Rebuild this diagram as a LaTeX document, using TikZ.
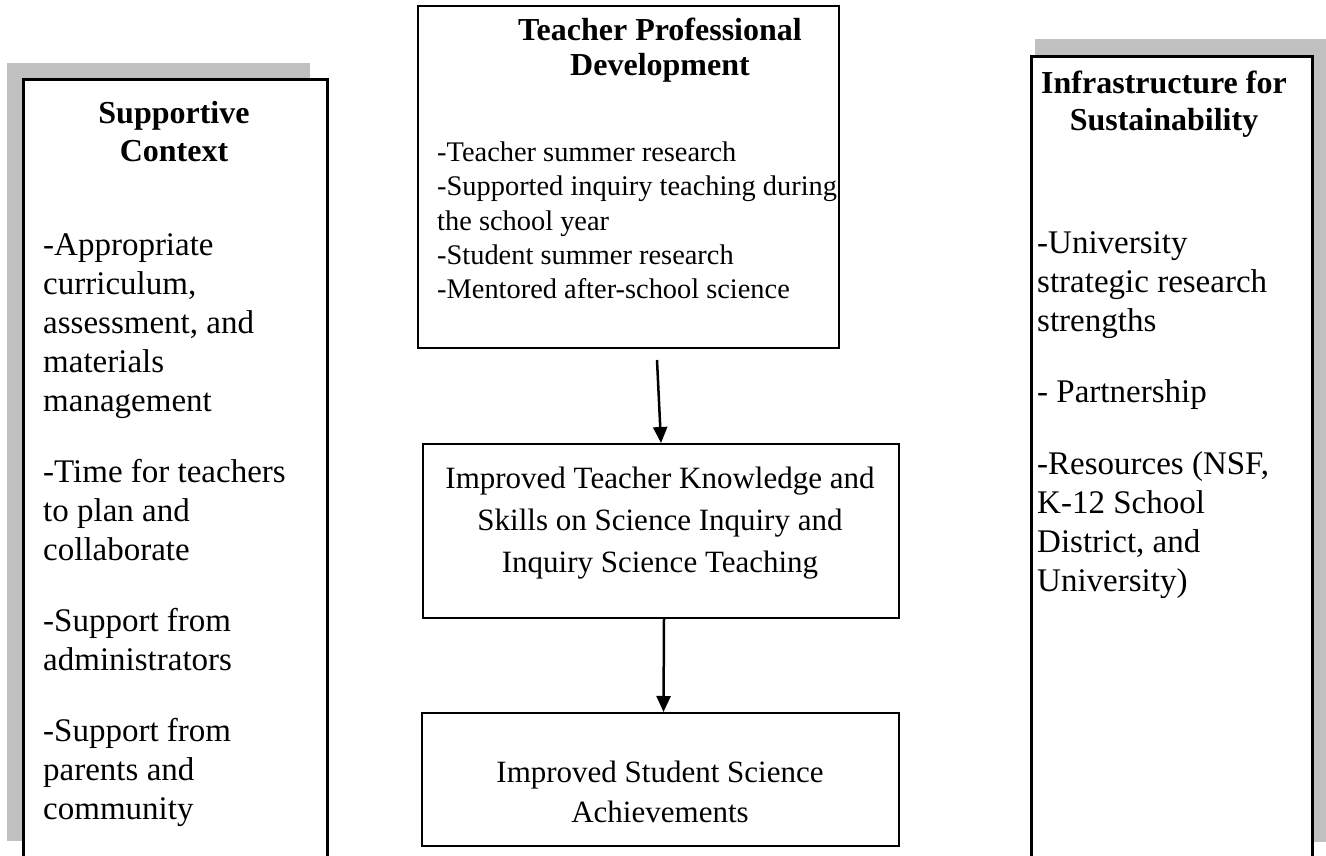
\documentclass[tikz,border=0pt]{standalone}
\usepackage{fontspec}
\setmainfont{Liberation Serif}
\usetikzlibrary{arrows.meta}
\definecolor{shadowgray}{RGB}{192,192,192}
\begin{document}
\begin{tikzpicture}[x=1pt,y=-1pt,
  shade/.style={fill=shadowgray,draw=none,inner sep=0pt,anchor=north west},
  panel/.style={draw=black,line width=2.6pt,fill=white,inner sep=0pt,anchor=north west},
  flowbox/.style={draw=black,line width=2pt,fill=white,inner sep=0pt,anchor=north west},
  side/.style={font=\fontsize{33}{39}\selectfont,inner sep=0pt,anchor=base west},
  ctxt/.style={font=\fontsize{31}{36}\selectfont,inner sep=0pt,anchor=base},
  head/.style={font=\fontsize{32}{37}\selectfont\bfseries,inner sep=0pt,anchor=base},
  small/.style={font=\fontsize{28.4}{34}\selectfont,inner sep=0pt,anchor=base west},
  flow/.style={line width=2.5pt,-{Triangle[length=16pt,width=14pt]}}
]
\clip (0,0) rectangle (1326,856);
\fill[white] (0,0) rectangle (1326,856);

% side panels with their offset shadows
\node[shade,minimum width=303pt,minimum height=778pt] (ctxshade) at (7,63) {};
\node[panel,minimum width=304pt,minimum height=820pt] (ctx) at (22,78) {};
\node[shade,minimum width=291pt,minimum height=803pt] (infshade) at (1035,39) {};
\node[panel,minimum width=281pt,minimum height=840pt] (inf) at (1030,55) {};

% central flow
\node[flowbox,minimum width=421pt,minimum height=342pt] (tpd) at (417,5) {};
\node[flowbox,minimum width=476pt,minimum height=174pt] (itk) at (422,443) {};
\node[flowbox,minimum width=477pt,minimum height=133pt] (isa) at (421,712) {};

\coordinate (a1s) at (657,360);
\draw[flow] (a1s) -- (itk.north);
\draw[flow] ([xshift=3pt]itk.south) -- ([xshift=3pt]isa.north);

% Supportive Context
\node[head] (ctxh1) at (174,124) {Supportive};
\node[head] (ctxh2) at (174,161) {Context};
\node[side] (c1)  at (43,255) {-Appropriate};
\node[side] (c2)  at (43,294) {curriculum,};
\node[side] (c3)  at (43,333) {assessment, and};
\node[side] (c4)  at (43,372) {materials};
\node[side] (c5)  at (43,411) {management};
\node[side] (c6)  at (43,482) {-Time for teachers};
\node[side] (c7)  at (43,521) {to plan and};
\node[side] (c8)  at (43,560) {collaborate};
\node[side] (c9)  at (43,631) {-Support from};
\node[side] (c10) at (43,670) {administrators};
\node[side] (c11) at (43,741) {-Support from};
\node[side] (c12) at (43,780) {parents and};
\node[side] (c13) at (43,819) {community};

% Infrastructure for Sustainability
\node[head] (infh1) at (1164,94) {Infrastructure for};
\node[head] (infh2) at (1164,131) {Sustainability};
\node[side] (r1) at (1037,253) {-University};
\node[side] (r2) at (1037,292) {strategic research};
\node[side] (r3) at (1037,331) {strengths};
\node[side] (r4) at (1037,402) {- Partnership};
\node[side] (r5) at (1037,474) {-Resources (NSF,};
\node[side] (r6) at (1037,513) {K-12 School};
\node[side] (r7) at (1037,552) {District, and};
\node[side] (r8) at (1037,591) {University)};

% Teacher Professional Development
\node[head] (tpdh1) at (660,41) {Teacher Professional};
\node[head] (tpdh2) at (660,76) {Development};
\node[small] (t1) at (437,162) {-Teacher summer research};
\node[small] (t2) at (437,196) {-Supported inquiry teaching during};
\node[small] (t3) at (437,230) {the school year};
\node[small] (t4) at (437,264) {-Student summer research};
\node[small] (t5) at (437,298) {-Mentored after-school science};

% outcomes
\node[ctxt] (k1) at (660,488) {Improved Teacher Knowledge and};
\node[ctxt] (k2) at (660,530) {Skills on Science Inquiry and};
\node[ctxt] (k3) at (660,572) {Inquiry Science Teaching};
\node[ctxt] (s1) at (660,782) {Improved Student Science};
\node[ctxt] (s2) at (660,822) {Achievements};
\end{tikzpicture}
\end{document}
